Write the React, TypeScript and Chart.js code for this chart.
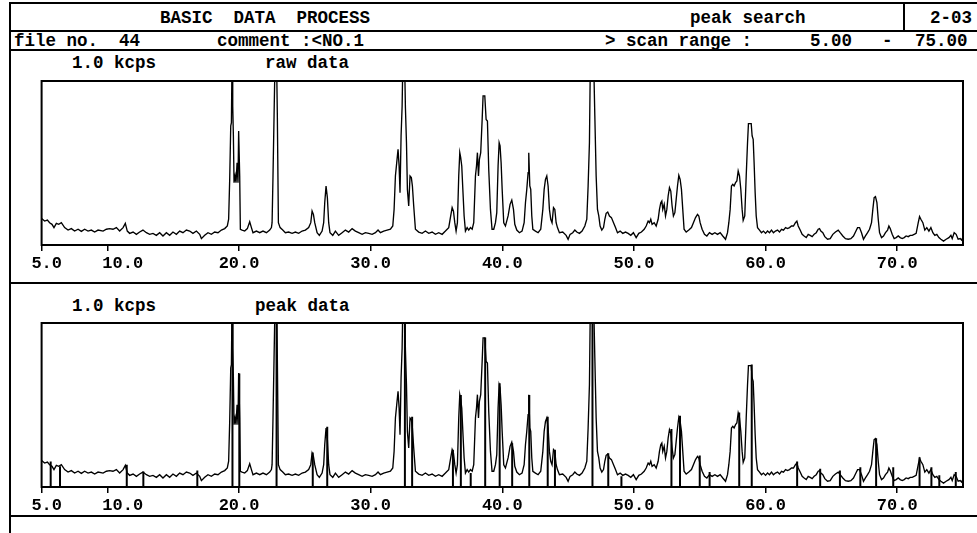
import React, { useEffect, useRef } from "react";
import { Chart, registerables } from "chart.js";

Chart.register(...registerables);

// 2-theta (deg) of the raw scan
const rawTheta = [
  5.0, 5.23, 5.44, 5.61, 5.79, 5.94, 6.12, 6.3, 6.5, 6.75, 7.01, 7.26, 7.51, 7.77, 8.02, 8.27, 8.53, 8.78, 9.03, 9.29,
  9.67, 9.92, 10.17, 10.42, 10.68, 10.93, 11.19, 11.36, 11.51, 11.69, 11.95, 12.2, 12.45, 12.7, 12.96, 13.21, 13.46, 13.72, 13.97, 14.22,
  14.48, 14.73, 14.98, 15.24, 15.49, 15.74, 16.0, 16.25, 16.5, 16.76, 17.01, 17.14, 17.39, 17.64, 17.9, 18.15, 18.4, 18.66, 18.91, 19.11,
  19.21, 19.29, 19.37, 19.42, 19.47, 19.52, 19.57, 19.62, 19.7, 19.77, 19.85, 19.92, 19.97, 20.05, 20.1, 20.23, 20.43, 20.63, 20.81, 20.94,
  21.06, 21.32, 21.57, 21.82, 22.08, 22.33, 22.46, 22.51, 22.58, 22.66, 22.74, 22.84, 22.91, 22.99, 23.12, 23.32, 23.52, 23.77, 24.03, 24.28,
  24.53, 24.79, 25.04, 25.29, 25.45, 25.55, 25.65, 25.75, 25.93, 26.1, 26.31, 26.43, 26.51, 26.61, 26.71, 26.81, 26.91, 27.12, 27.32, 27.57,
  27.83, 28.08, 28.33, 28.59, 28.84, 29.09, 29.35, 29.6, 29.85, 30.11, 30.36, 30.56, 30.74, 30.99, 31.25, 31.5, 31.68, 31.78, 31.88, 31.98,
  32.08, 32.16, 32.23, 32.31, 32.39, 32.46, 32.56, 32.64, 32.72, 32.79, 32.89, 32.99, 33.09, 33.17, 33.27, 33.4, 33.65, 33.91, 34.16, 34.41,
  34.67, 34.92, 35.17, 35.43, 35.68, 35.93, 36.08, 36.19, 36.29, 36.39, 36.49, 36.59, 36.69, 36.77, 36.84, 36.92, 36.99, 37.1, 37.2, 37.33,
  37.45, 37.58, 37.71, 37.83, 37.96, 38.04, 38.11, 38.19, 38.26, 38.36, 38.47, 38.54, 38.67, 38.77, 38.87, 38.97, 39.1, 39.22, 39.35, 39.48,
  39.58, 39.68, 39.76, 39.83, 39.91, 39.99, 40.11, 40.24, 40.44, 40.59, 40.72, 40.85, 40.95, 41.1, 41.3, 41.5, 41.66, 41.76, 41.86, 41.96,
  42.01, 42.09, 42.16, 42.24, 42.32, 42.52, 42.72, 42.92, 43.08, 43.18, 43.28, 43.38, 43.48, 43.58, 43.68, 43.78, 43.89, 43.99, 44.09, 44.19,
  44.34, 44.59, 44.85, 45.0, 45.15, 45.35, 45.51, 45.66, 45.86, 46.06, 46.27, 46.42, 46.52, 46.62, 46.7, 46.92, 47.03, 47.13, 47.23, 47.33,
  47.43, 47.56, 47.69, 47.79, 47.89, 48.01, 48.14, 48.29, 48.45, 48.6, 48.75, 48.95, 49.15, 49.36, 49.56, 49.76, 49.96, 50.17, 50.37, 50.57,
  50.78, 50.93, 51.08, 51.18, 51.28, 51.38, 51.54, 51.69, 51.84, 51.94, 52.04, 52.12, 52.19, 52.3, 52.4, 52.5, 52.6, 52.7, 52.8, 52.9,
  53.0, 53.11, 53.21, 53.31, 53.41, 53.51, 53.61, 53.71, 53.81, 53.97, 54.17, 54.37, 54.52, 54.68, 54.83, 54.93, 55.03, 55.18, 55.36, 55.54,
  55.74, 55.94, 56.15, 56.35, 56.55, 56.75, 56.96, 57.11, 57.21, 57.31, 57.41, 57.51, 57.61, 57.72, 57.82, 57.92, 58.02, 58.12, 58.22, 58.3,
  58.42, 58.53, 58.63, 58.7, 58.91, 58.98, 59.06, 59.13, 59.21, 59.29, 59.39, 59.54, 59.69, 59.84, 60.0, 60.15, 60.3, 60.45, 60.6, 60.75,
  60.91, 61.06, 61.21, 61.36, 61.52, 61.67, 61.82, 61.97, 62.12, 62.27, 62.38, 62.48, 62.63, 62.78, 62.93, 63.09, 63.24, 63.39, 63.54, 63.69,
  63.85, 64.0, 64.1, 64.2, 64.35, 64.5, 64.71, 64.91, 65.11, 65.31, 65.52, 65.67, 65.87, 66.07, 66.28, 66.48, 66.68, 66.83, 66.99, 67.14,
  67.29, 67.44, 67.59, 67.75, 67.9, 68.05, 68.15, 68.25, 68.35, 68.46, 68.56, 68.66, 68.81, 68.96, 69.11, 69.27, 69.37, 69.47, 69.62, 69.77,
  69.92, 70.08, 70.23, 70.38, 70.53, 70.68, 70.84, 70.99, 71.14, 71.29, 71.44, 71.6, 71.7, 71.8, 71.95, 72.1, 72.25, 72.41, 72.56, 72.71,
  72.86, 73.01, 73.17, 73.32, 73.52, 73.72, 73.93, 74.08, 74.18, 74.33, 74.48, 74.63, 74.79, 74.89, 74.99,
];

// intensity (cps, full scale 1.0 kcps); values above 1000 are clipped by the frame
const rawCounts = [
  161, 146, 152, 136, 126, 106, 132, 126, 136, 106, 91, 100, 85, 96, 83, 96, 85, 91, 79, 91,
  85, 96, 100, 96, 106, 85, 106, 132, 85, 71, 79, 65, 79, 91, 75, 65, 71, 59, 75, 55,
  75, 59, 79, 65, 85, 75, 91, 85, 71, 85, 65, 39, 59, 75, 65, 79, 75, 91, 100, 116,
  157, 400, 726, 746, 1150, 848, 665, 380, 421, 380, 502, 380, 695, 421, 96, 91, 85, 100, 142, 106,
  75, 85, 75, 85, 75, 91, 106, 136, 421, 787, 1150, 1200, 787, 136, 106, 91, 75, 79, 71, 79,
  71, 85, 91, 106, 136, 207, 187, 136, 75, 59, 85, 136, 258, 360, 289, 136, 75, 59, 85, 59,
  75, 91, 79, 100, 85, 75, 65, 75, 71, 65, 75, 91, 75, 85, 91, 96, 116, 217, 421, 502,
  583, 482, 319, 665, 848, 1200, 1200, 837, 624, 339, 238, 421, 411, 360, 238, 96, 79, 71, 85, 71,
  79, 65, 75, 65, 85, 106, 177, 228, 207, 136, 85, 136, 421, 563, 533, 482, 360, 177, 85, 106,
  91, 106, 96, 136, 421, 482, 563, 421, 522, 563, 766, 909, 909, 766, 756, 461, 217, 96, 96, 136,
  197, 482, 624, 604, 502, 339, 136, 116, 177, 248, 274, 217, 126, 91, 75, 85, 136, 258, 339, 441,
  563, 360, 339, 177, 96, 85, 75, 96, 217, 339, 400, 421, 360, 217, 157, 136, 228, 217, 136, 106,
  75, 79, 59, 35, 65, 75, 91, 79, 71, 85, 116, 157, 360, 624, 1200, 1200, 787, 421, 217, 177,
  116, 91, 106, 157, 193, 201, 177, 167, 136, 106, 75, 85, 71, 79, 71, 59, 75, 45, 71, 79,
  96, 116, 146, 136, 157, 126, 136, 116, 157, 217, 258, 268, 217, 248, 177, 217, 299, 350, 329, 238,
  177, 197, 278, 360, 425, 400, 339, 217, 96, 79, 91, 106, 136, 167, 187, 177, 136, 96, 65, 55,
  75, 65, 75, 65, 75, 55, 35, 75, 136, 217, 360, 370, 360, 380, 390, 451, 421, 340, 217, 150,
  177, 421, 624, 740, 740, 665, 644, 502, 319, 177, 106, 91, 75, 85, 71, 85, 75, 91, 75, 85,
  91, 79, 96, 91, 106, 100, 106, 116, 116, 136, 146, 116, 91, 65, 55, 45, 65, 59, 51, 65,
  75, 96, 100, 85, 75, 51, 35, 39, 65, 79, 91, 75, 55, 39, 35, 39, 55, 79, 106, 106,
  75, 35, 55, 75, 96, 136, 217, 289, 295, 258, 157, 75, 45, 55, 75, 91, 116, 100, 65, 39,
  45, 55, 45, 39, 45, 55, 51, 59, 59, 65, 71, 136, 173, 157, 136, 91, 106, 85, 106, 75,
  59, 65, 45, 35, 24, 35, 45, 59, 39, 75, 65, 35, 39, 30, 45,
];

// peak search result: positions (deg) and heights (cps)
const peakTheta = [
  5.69, 6.4, 11.47, 12.73, 16.83, 19.5, 20.02, 22.85, 25.6, 26.7,
  32.6, 33.15, 36.25, 36.85, 37.6, 38.7, 39.8, 40.75, 42.05, 43.45,
  44.0, 46.85, 48.05, 49.05, 52.85, 53.5, 55.0, 55.75, 58.0, 58.95,
  62.4, 64.15, 65.65, 67.2, 68.4, 69.7, 71.7, 72.6, 73.2, 74.45,
];
const peakCounts = [
  156, 126, 136, 95, 101, 1200, 692, 1200, 210, 368,
  1200, 429, 227, 561, 85, 911, 632, 267, 561, 429,
  227, 1200, 206, 65, 354, 434, 192, 91, 455, 747,
  156, 111, 101, 121, 297, 121, 182, 121, 71, 91,
];

const axisTicks = [5, 10, 20, 30, 40, 50, 60, 70];
const axisLabels = ["5.0", "10.0", "20.0", "30.0", "40.0", "50.0", "60.0", "70.0"];
const scanStart = 5;
const scanEnd = 75;
const fullScale = 1000;

// the first two labels sit slightly right of their tick in the original print-out
const LABEL_PAD = [" ", "   ", "", "", "", "", "", ""];

const MONO = '"Liberation Mono", "DejaVu Sans Mono", monospace';

const framePlugin = {
  id: "frame",
  afterDatasetsDraw(chart: any) {
    const { ctx, chartArea: a } = chart;
    ctx.save();
    ctx.strokeStyle = "#000";
    ctx.lineWidth = 2;
    ctx.strokeRect(a.left, a.top, a.right - a.left, a.bottom - a.top);
    ctx.restore();
  },
};

function Panel({ top, showPeaks }: { top: number; showPeaks: boolean }) {
  const ref = useRef<HTMLCanvasElement | null>(null);
  useEffect(() => {
    const curve = rawTheta.map((x, i) => ({ x, y: rawCounts[i] }));
    const datasets: any[] = [
      {
        data: curve,
        borderColor: "#000",
        borderWidth: 1.35,
        pointRadius: 0,
        tension: 0,
      },
    ];
    if (showPeaks) {
      const sticks: any[] = [];
      peakTheta.forEach((x, i) => {
        sticks.push({ x, y: 0 }, { x, y: peakCounts[i] }, { x, y: null });
      });
      datasets.push({
        data: sticks,
        borderColor: "#000",
        borderWidth: 2,
        pointRadius: 0,
        spanGaps: false,
      });
    }
    const chart = new Chart(ref.current as HTMLCanvasElement, {
      type: "line",
      data: { datasets },
      options: {
        animation: false,
        responsive: false,
        maintainAspectRatio: false,
        events: [],
        layout: { padding: { left: 41.6, right: 14, top: 5, bottom: 0 } },
        plugins: { legend: { display: false }, tooltip: { enabled: false } },
        scales: {
          x: {
            type: "linear",
            min: scanStart,
            max: scanEnd,
            afterBuildTicks: (s: any) => {
              s.ticks = axisTicks.map((v) => ({ value: v }));
            },
            afterFit: (s: any) => {
              s.height = 31;
            },
            ticks: {
              autoSkip: false,
              maxRotation: 0,
              padding: 3,
              color: "#000",
              font: { family: MONO, size: 17, weight: "bold" },
              callback: (_v: any, i: number) => LABEL_PAD[i] + axisLabels[i],
            },
            grid: {
              display: true,
              drawOnChartArea: false,
              drawTicks: true,
              tickLength: 6,
              color: "#000",
              lineWidth: 1.5,
            },
            border: { display: false },
          },
          y: { display: false, min: 0, max: fullScale },
        },
      } as any,
      plugins: [framePlugin],
    });
    return () => chart.destroy();
  }, [showPeaks]);
  return (
    <canvas
      ref={ref}
      width={977}
      height={200}
      style={{ position: "absolute", left: 0, top, width: 977, height: 200 }}
    />
  );
}

const TEXT_SIZE = 17.5;

function Txt({ x, cy, children }: { x: number; cy: number; children: string }) {
  return (
    <div
      style={{
        position: "absolute",
        left: x,
        top: cy - TEXT_SIZE * 0.44,
        fontFamily: MONO,
        fontWeight: "bold",
        fontSize: TEXT_SIZE,
        lineHeight: 1,
        whiteSpace: "pre",
        color: "#000",
      }}
    >
      {children}
    </div>
  );
}

function HLine({ x1, x2, y }: { x1: number; x2: number; y: number }) {
  return <div style={{ position: "absolute", left: x1, top: y - 1, width: x2 - x1, height: 2, background: "#000" }} />;
}
function VLine({ x, y1, y2 }: { x: number; y1: number; y2: number }) {
  return <div style={{ position: "absolute", left: x - 1, top: y1, width: 2, height: y2 - y1, background: "#000" }} />;
}

export default function App() {
  return (
    <div
      style={{
        position: "fixed",
        left: 0,
        top: 0,
        width: 977,
        height: 533,
        background: "#fff",
        overflow: "hidden",
      }}
    >
      <Panel top={76} showPeaks={false} />
      <Panel top={318} showPeaks={true} />

      <HLine x1={10} x2={977} y={3} />
      <HLine x1={10} x2={977} y={31} />
      <HLine x1={10} x2={977} y={50} />
      <HLine x1={10} x2={977} y={283} />
      <HLine x1={10} x2={977} y={516} />
      <VLine x={10} y1={2} y2={533} />
      <VLine x={904} y1={3} y2={31} />

      <Txt x={160} cy={18}>BASIC  DATA  PROCESS</Txt>
      <Txt x={690} cy={18}>peak search</Txt>
      <Txt x={930} cy={18}>2-03</Txt>

      <Txt x={14} cy={41}>file no.  44</Txt>
      <Txt x={217} cy={41}>comment :&lt;NO.1</Txt>
      <Txt x={605} cy={41}>&gt; scan range :</Txt>
      <Txt x={810} cy={41}>5.00</Txt>
      <Txt x={882} cy={41}>-</Txt>
      <Txt x={915} cy={41}>75.00</Txt>

      <Txt x={72} cy={63}>1.0 kcps</Txt>
      <Txt x={265} cy={63}>raw data</Txt>

      <Txt x={72} cy={306}>1.0 kcps</Txt>
      <Txt x={255} cy={306}>peak data</Txt>
    </div>
  );
}
